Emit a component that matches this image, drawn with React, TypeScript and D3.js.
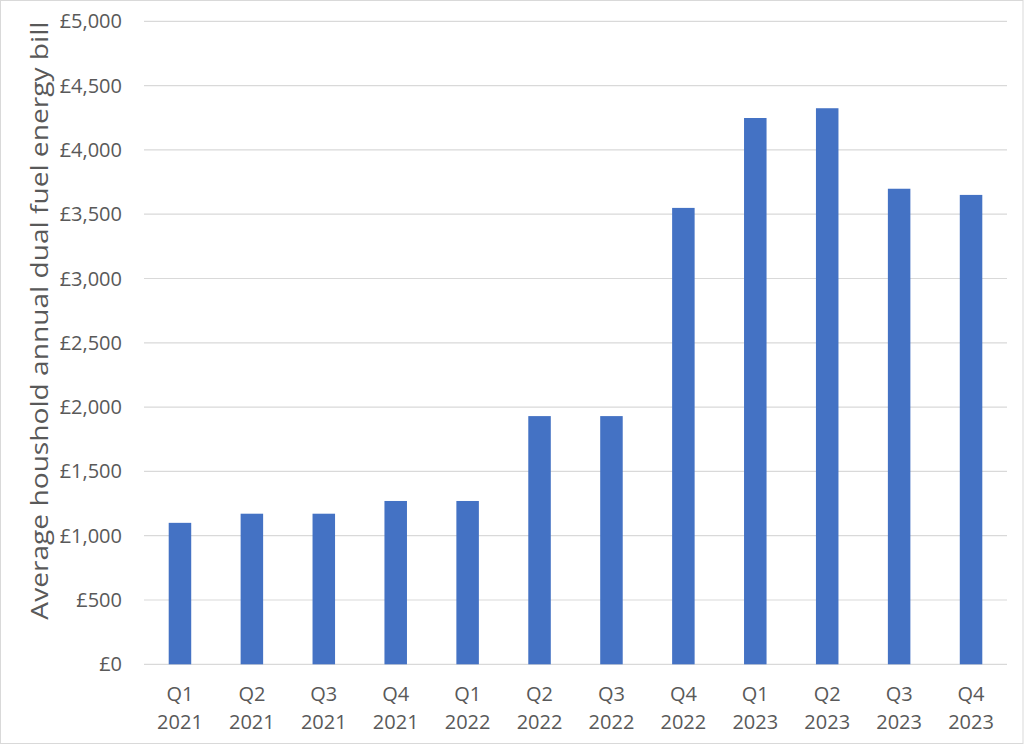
import React from "react";
import * as d3 from "d3";

const quarters = ["Q1", "Q2", "Q3", "Q4", "Q1", "Q2", "Q3", "Q4", "Q1", "Q2", "Q3", "Q4"];
const years = ["2021", "2021", "2021", "2021", "2022", "2022", "2022", "2022", "2023", "2023", "2023", "2023"];
const bills = [1100, 1171, 1171, 1270, 1270, 1930, 1930, 3549, 4248, 4324, 3698, 3650];
const yTicks = [0, 500, 1000, 1500, 2000, 2500, 3000, 3500, 4000, 4500, 5000];
const yTitle = "Average houshold annual dual fuel energy bill";

const W = 1024;
const H = 744;
const left = 144;
const right = 1007;
const top = 21.3;
const bottom = 664.3;
const FONT = "'Open Sans', sans-serif";

export default function App() {
  const ids = bills.map((_, i) => String(i));
  const x = d3.scaleBand<string>().domain(ids).range([left, right]).paddingInner(0.687).paddingOuter(0.3435);
  const y = d3.scaleLinear().domain([0, 5000]).range([bottom, top]);
  const fmt = (v: number) => "£" + d3.format(",")(v);

  return (
    <svg
      width={W}
      height={H}
      style={{ position: "absolute", left: 0, top: 0, background: "#fff" }}
      fontFamily={FONT}
    >
      <rect x={0.5} y={0.5} width={W - 1.5} height={H - 1} fill="#fff" stroke="#d9d9d9" strokeWidth={1} />
      {yTicks.map((t) => (
        <g key={t}>
          <line x1={left} x2={right} y1={y(t)} y2={y(t)} stroke="#d9d9d9" strokeWidth={1.2} />
          <text x={122} y={y(t)} dy="0.35em" textAnchor="end" fontSize={20} fill="#595959">
            {fmt(t)}
          </text>
        </g>
      ))}
      {bills.map((v, i) => (
        <rect key={i} x={x(ids[i])} y={y(v)} width={x.bandwidth()} height={y(0) - y(v)} fill="#4472c4" />
      ))}
      {ids.map((id, i) => {
        const cx = (x(id) as number) + x.bandwidth() / 2;
        return (
          <g key={id}>
            <text x={cx} y={701} textAnchor="middle" fontSize={20} fill="#595959">
              {quarters[i]}
            </text>
            <text x={cx} y={729} textAnchor="middle" fontSize={20} fill="#595959">
              {years[i]}
            </text>
          </g>
        );
      })}
      <text
        transform={`translate(48, ${(top + 620) / 2}) rotate(-90)`}
        textAnchor="middle"
        fontSize={24}
        fill="#595959"
        textLength={598}
        lengthAdjust="spacingAndGlyphs"
      >
        {yTitle}
      </text>
    </svg>
  );
}
